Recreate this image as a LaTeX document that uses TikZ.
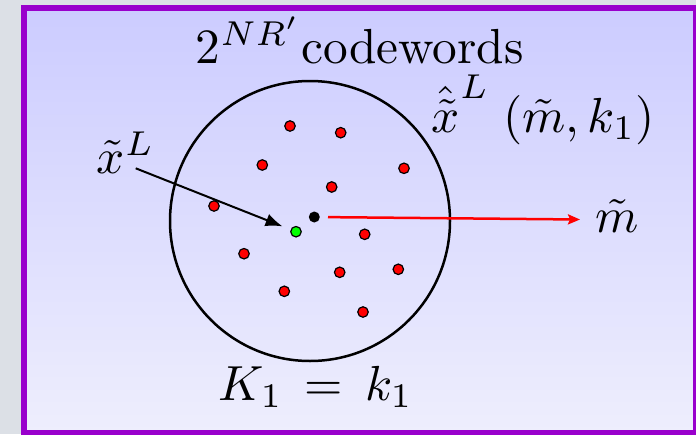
\documentclass[tikz,border=0pt]{standalone}
\usetikzlibrary{arrows.meta}
\definecolor{outerbg}{RGB}{220,224,230}
\definecolor{framepurple}{RGB}{153,0,204}
\definecolor{shtop}{RGB}{204,204,255}
\definecolor{shbot}{RGB}{238,238,253}
\definecolor{dotred}{RGB}{255,0,0}
\definecolor{dotgreen}{RGB}{0,255,0}
\begin{document}
\begin{tikzpicture}[x=1pt,y=-1pt,
  lbl/.style={inner sep=0pt, anchor=base west, scale=4.93},
  cw/.style={circle, draw=black, fill=dotred, line width=1.2pt, inner sep=0pt, minimum size=10.5pt},
  blackdot/.style={circle, fill=black, inner sep=0pt, minimum size=11pt},
  greendot/.style={cw, fill=dotgreen},
  ball/.style={circle, draw=black, line width=2.5pt, inner sep=0pt, minimum size=280pt}]
\fill[outerbg] (0,0) rectangle (696,434);
\useasboundingbox (0,0) rectangle (696,434);
\shade[top color=shtop, bottom color=shbot] (24,8) rectangle (696,433);
\draw[framepurple, line width=5.4pt] (24,8) rectangle (696,433);

\node[ball] (circ) at (310,221) {};

\node[cw] (d1) at (290,126) {};
\node[cw] (d2) at (340.7,132.7) {};
\node[cw] (d3) at (262.3,165) {};
\node[cw] (d4) at (404,168.3) {};
\node[cw] (d5) at (331.7,187) {};
\node[cw] (d6) at (214,206) {};
\node[cw] (d7) at (364.7,234.3) {};
\node[cw] (d8) at (244,253.7) {};
\node[cw] (d9) at (398.3,269.3) {};
\node[cw] (d10) at (339.7,272.3) {};
\node[cw] (d11) at (284.3,291.3) {};
\node[cw] (d12) at (363,312) {};
\node[blackdot] (blk) at (314.3,217) {};
\node[greendot] (grn) at (296,231.7) {};

\node[lbl] (cwl) at (195,63) {$2^{NR'}$codewords};
\node[lbl] (xl) at (96,173) {$\tilde{x}^L$};
\node[lbl] (xhl) at (431,132) {${\hat{\tilde{x}}}^L\;(\tilde{m}, k_1)$};
\node[lbl] (ml) at (595,232) {$\tilde{m}$};
\node[lbl] (kl) at (218,400) {$K_1\mkern3mu=\mkern3mu k_1$};

\coordinate (xs) at (135.7,168.3);
\draw[line width=2pt, -{Latex[length=17pt,width=13pt]}, shorten >=8.6pt] (xs) -- (grn);
\coordinate (re) at (580,219.5);
\draw[dotred, line width=2.5pt, -{Stealth[length=12pt,width=10pt,inset=2pt]}, shorten <=8pt] (blk) -- (re);
\end{tikzpicture}
\end{document}
